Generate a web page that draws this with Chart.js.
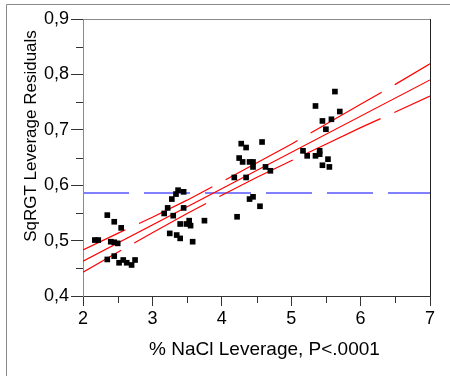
<!DOCTYPE html>
<html>
<head>
<meta charset="utf-8">
<script src="https://cdn.jsdelivr.net/npm/chart.js@4"></script>
<style>
  html, body { margin: 0; padding: 0; background: #ffffff; }
  #wrap { width: 450px; height: 376px; position: relative; }
</style>
</head>
<body>
<div id="wrap"><canvas id="c" width="450" height="376"></canvas></div>
<script>
// ---- data ----
const pointX = [
  2.17, 2.22, 2.35, 2.45, 2.55, 2.40, 2.45, 2.50, 2.35, 2.45, 2.52, 2.58, 2.63, 2.70, 2.75,
  3.37, 3.45, 3.34, 3.28, 3.22, 3.17, 3.45, 3.30, 3.40, 3.49, 3.53, 3.55, 3.75, 3.25, 3.35, 3.40, 3.58,
  4.28, 4.35, 4.58, 4.25, 4.30, 4.40, 4.45, 4.45, 4.63, 4.70, 4.18, 4.35, 4.40, 4.45, 4.55, 4.22,
  5.63, 5.35, 5.70, 5.45, 5.58, 5.50, 5.17, 5.23, 5.35, 5.41, 5.41, 5.53, 5.45, 5.55
];
const pointY = [
  0.501, 0.501, 0.546, 0.534, 0.523, 0.498, 0.497, 0.495, 0.466, 0.472, 0.460, 0.465, 0.460, 0.456, 0.465,
  0.591, 0.588, 0.584, 0.575, 0.559, 0.549, 0.559, 0.545, 0.530, 0.530, 0.536, 0.527, 0.536, 0.513, 0.510, 0.504, 0.498,
  0.675, 0.668, 0.678, 0.649, 0.642, 0.642, 0.642, 0.633, 0.633, 0.626, 0.614, 0.614, 0.575, 0.579, 0.562, 0.543,
  0.769, 0.743, 0.733, 0.716, 0.719, 0.701, 0.662, 0.653, 0.653, 0.662, 0.656, 0.647, 0.636, 0.633
];
const fitX = [2, 7];
const fitY = [0.463, 0.790];
const ciX = [2, 2.5, 3, 3.5, 4, 4.5, 5, 5.5, 6, 6.5, 7];
const ciUpper = [0.483, 0.513, 0.542, 0.573, 0.606, 0.640, 0.674, 0.710, 0.746, 0.782, 0.819];
const ciLower = [0.443, 0.479, 0.514, 0.549, 0.582, 0.614, 0.644, 0.674, 0.704, 0.732, 0.761];
const meanX = [2, 7];
const meanY = [0.586, 0.586];
const xTicks = [2, 3, 4, 5, 6, 7];
const yTicks = [0.4, 0.5, 0.6, 0.7, 0.8, 0.9];
const xMinorTicks = [2.5, 3.5, 4.5, 5.5, 6.5];
const yMinorTicks = [0.45, 0.55, 0.65, 0.75, 0.85];
const xTitle = '% NaCl Leverage, P<.0001';
const yTitle = 'SqRGT Leverage Residuals';

const FONT = "'Liberation Sans', Arial, sans-serif";
const toXY = (xs, ys) => xs.map((x, i) => ({ x: x, y: ys[i] }));

const decor = {
  id: 'decor',
  beforeDraw(chart) {
    const ctx = chart.ctx;
    ctx.save();
    ctx.fillStyle = '#ffffff';
    ctx.fillRect(0, 0, chart.width, chart.height);
    // outer frame
    ctx.strokeStyle = '#8a8a8a';
    ctx.lineWidth = 1;
    ctx.beginPath();
    ctx.moveTo(6.5, chart.height);
    ctx.lineTo(6.5, 4.5);
    ctx.lineTo(chart.width, 4.5);
    ctx.stroke();
    ctx.restore();
  },
  afterDraw(chart) {
    const ctx = chart.ctx;
    const a = chart.chartArea;
    const xs = chart.scales.x, ys = chart.scales.y;
    ctx.save();
    // plot frame top (gray) and right (dark)
    ctx.lineWidth = 1;
    ctx.strokeStyle = '#8a8a8a';
    ctx.beginPath();
    ctx.moveTo(a.left, Math.round(a.top) + 0.5);
    ctx.lineTo(a.right, Math.round(a.top) + 0.5);
    ctx.stroke();
    ctx.strokeStyle = '#222222';
    ctx.beginPath();
    ctx.moveTo(Math.round(a.right) + 0.5, a.top);
    ctx.lineTo(Math.round(a.right) + 0.5, a.bottom);
    ctx.stroke();
    // minor ticks
    ctx.strokeStyle = '#333333';
    ctx.beginPath();
    xMinorTicks.forEach(v => {
      const px = Math.round(xs.getPixelForValue(v)) + 0.5;
      ctx.moveTo(px, a.bottom);
      ctx.lineTo(px, a.bottom + 7);
    });
    yMinorTicks.forEach(v => {
      const py = Math.round(ys.getPixelForValue(v)) + 0.5;
      ctx.moveTo(a.left - 7, py);
      ctx.lineTo(a.left, py);
    });
    ctx.stroke();
    // axis titles
    ctx.fillStyle = '#000000';
    ctx.textAlign = 'center';
    ctx.textBaseline = 'middle';
    ctx.font = '19px ' + FONT;
    ctx.fillText(xTitle, 264.5, 350);
    ctx.translate(31, 136);
    ctx.rotate(-Math.PI / 2);
    ctx.font = '17px ' + FONT;
    ctx.fillText(yTitle, 0, 0);
    ctx.restore();
  }
};

new Chart(document.getElementById('c'), {
  type: 'scatter',
  data: {
    datasets: [
      {
        label: 'points',
        data: toXY(pointX, pointY),
        pointStyle: 'rect',
        pointRadius: 4,
        pointBackgroundColor: '#000000',
        pointBorderWidth: 0,
        showLine: false,
        order: 0
      },
      {
        label: 'fit',
        data: toXY(fitX, fitY),
        showLine: true,
        borderColor: '#ff0000',
        borderWidth: 1.2,
        pointRadius: 0,
        order: 1
      },
      {
        label: 'upper',
        data: toXY(ciX, ciUpper),
        showLine: true,
        borderColor: '#ff0000',
        borderWidth: 1.2,
        borderDash: [82, 15],
        borderDashOffset: 35,
        pointRadius: 0,
        order: 1
      },
      {
        label: 'lower',
        data: toXY(ciX, ciLower),
        showLine: true,
        borderColor: '#ff0000',
        borderWidth: 1.2,
        borderDash: [82, 15],
        borderDashOffset: 38,
        pointRadius: 0,
        order: 1
      },
      {
        label: 'mean',
        data: toXY(meanX, meanY),
        showLine: true,
        borderColor: '#8080ff',
        borderWidth: 2,
        borderDash: [46, 15],
        pointRadius: 0,
        order: 2
      }
    ]
  },
  options: {
    responsive: false,
    animation: false,
    devicePixelRatio: 1,
    layout: { padding: { top: 19, right: 20, left: 0, bottom: 0 } },
    plugins: { legend: { display: false }, tooltip: { enabled: false } },
    scales: {
      x: {
        type: 'linear',
        min: 2, max: 7,
        afterFit(s) { s.height = 80; },
        afterBuildTicks(s) { s.ticks = xTicks.map(v => ({ value: v })); },
        ticks: { color: '#000', font: { family: FONT, size: 18 }, padding: 2, maxRotation: 0 },
        grid: { drawOnChartArea: false, drawTicks: true, tickLength: 10, color: '#333333' },
        border: { display: true, color: '#333333', width: 1 }
      },
      y: {
        type: 'linear',
        min: 0.4, max: 0.9,
        afterFit(s) { s.width = 83; },
        afterBuildTicks(s) { s.ticks = yTicks.map(v => ({ value: v })); },
        ticks: {
          color: '#000', font: { family: FONT, size: 18 }, padding: 2,
          callback: v => v.toFixed(1).replace('.', ',')
        },
        grid: { drawOnChartArea: false, drawTicks: true, tickLength: 12, color: '#333333' },
        border: { display: true, color: '#8a8a8a', width: 1 }
      }
    }
  },
  plugins: [decor]
});
</script>
</body>
</html>
